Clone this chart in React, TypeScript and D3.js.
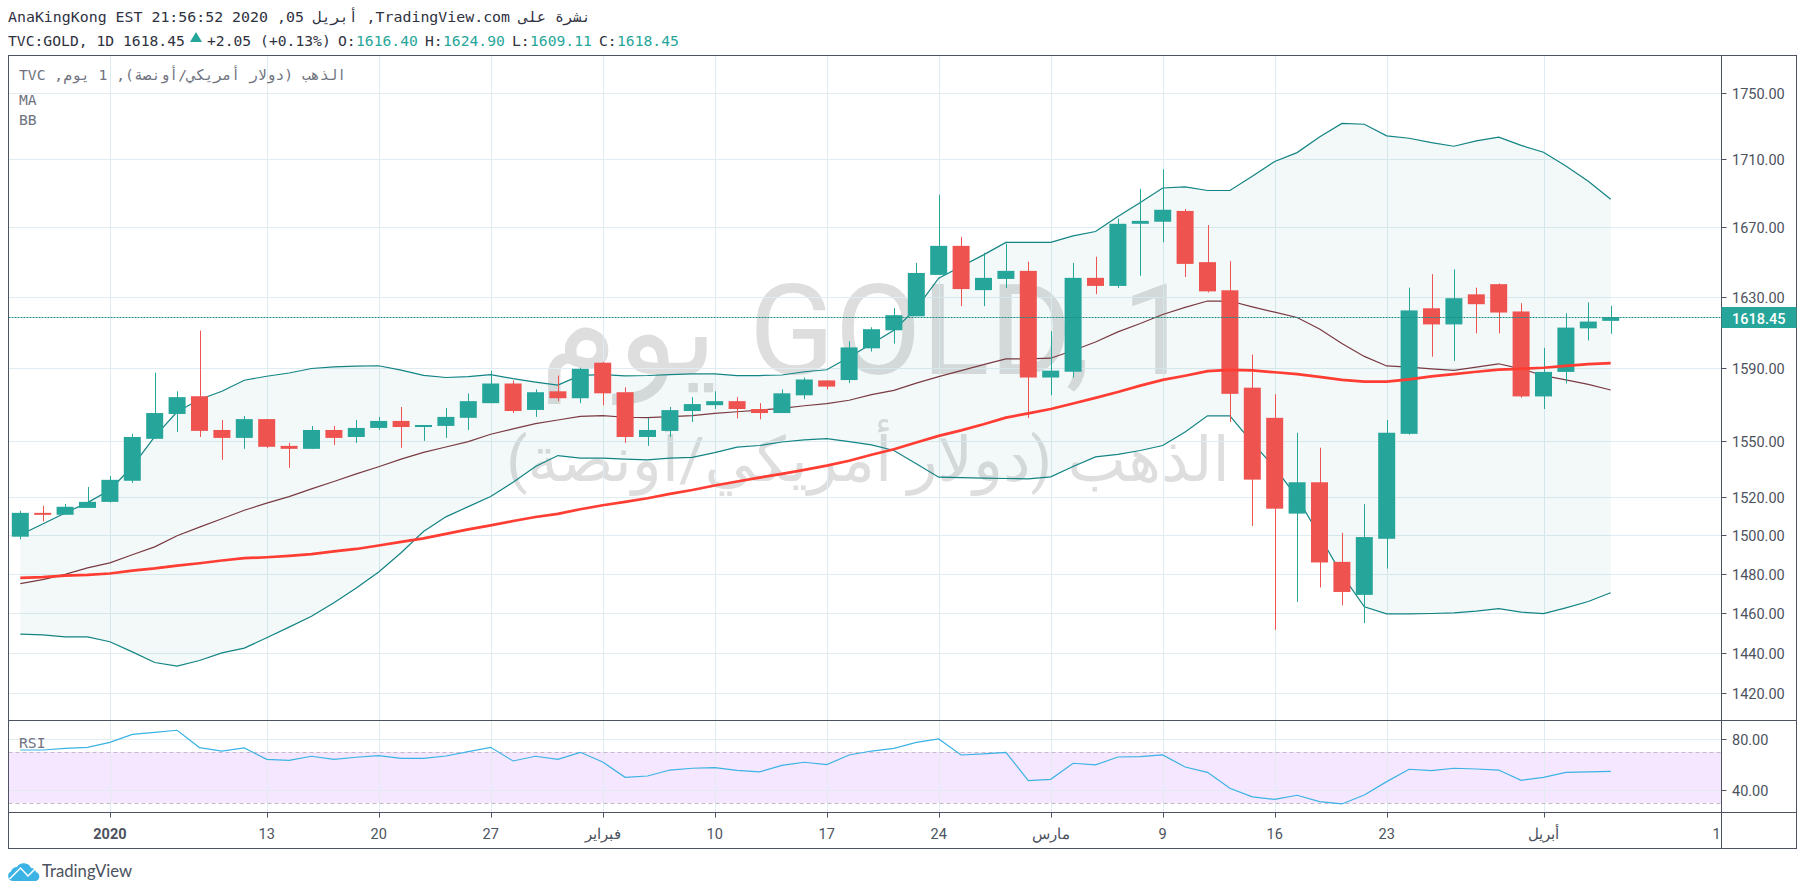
import React from 'react';
import * as d3 from 'd3';

const opens = [1499.3,1511.8,1510.8,1514.4,1517.6,1528.8,1551.3,1564.8,1574.5,1556.1,1551.8,1562.0,1547.5,1545.9,1556.1,1552.3,1557.2,1561.0,1557.7,1558.3,1562.7,1570.7,1581.5,1567.0,1577.2,1573.4,1593.0,1576.7,1552.3,1555.6,1566.4,1569.6,1571.8,1567.5,1565.3,1575.0,1583.2,1583.4,1601.0,1611.1,1619.0,1642.5,1659.2,1633.8,1640.2,1644.8,1584.8,1588.0,1640.8,1636.2,1672.0,1673.2,1679.5,1649.8,1633.7,1579.2,1562.7,1511.4,1528.0,1486.2,1469.2,1498.2,1554.0,1623.5,1614.4,1631.4,1637.2,1621.7,1574.4,1587.9,1612.2,1616.4];
const highs = [1512.9,1515.5,1516.5,1525.5,1531.4,1554.0,1587.5,1577.2,1610.9,1561.5,1563.6,1562.0,1549.1,1558.3,1558.3,1561.5,1563.2,1568.6,1558.8,1568.0,1576.0,1588.5,1583.2,1578.3,1585.9,1590.2,1593.5,1579.4,1562.6,1568.6,1574.0,1577.2,1574.0,1570.7,1578.3,1584.8,1583.2,1604.9,1612.8,1623.6,1649.4,1689.0,1664.4,1655.2,1660.5,1650.0,1610.6,1649.4,1652.9,1675.0,1692.5,1704.0,1680.7,1671.3,1650.4,1597.5,1575.6,1554.6,1546.5,1501.3,1516.4,1561.5,1635.2,1642.9,1645.7,1635.2,1637.6,1626.4,1601.3,1620.7,1626.8,1624.9];
const lows = [1497.9,1507.3,1510.8,1514.4,1517.2,1527.7,1551.3,1555.0,1552.3,1540.0,1545.9,1546.4,1535.7,1545.9,1548.0,1549.1,1556.1,1546.4,1550.2,1551.8,1556.1,1570.7,1565.3,1563.2,1571.8,1570.7,1569.6,1549.1,1547.5,1552.3,1560.4,1567.5,1562.4,1561.9,1565.3,1572.9,1578.3,1581.7,1599.2,1603.6,1619.0,1642.5,1624.7,1624.7,1635.0,1562.6,1575.0,1584.8,1631.5,1635.0,1642.0,1661.3,1641.3,1632.5,1560.4,1504.9,1451.4,1465.6,1473.0,1463.9,1454.8,1482.7,1553.5,1596.3,1594.0,1609.4,1609.4,1573.7,1567.5,1581.5,1605.4,1609.11];
const closes = [1511.8,1510.8,1515.0,1517.6,1529.3,1552.3,1565.3,1574.0,1555.6,1551.8,1562.0,1547.0,1545.9,1556.1,1551.8,1557.2,1561.0,1557.7,1558.8,1563.2,1571.8,1581.5,1566.4,1576.7,1573.4,1589.6,1576.1,1552.3,1556.1,1566.9,1570.2,1571.8,1567.5,1565.3,1576.1,1583.7,1579.8,1601.5,1611.7,1619.6,1643.6,1659.2,1634.4,1640.8,1644.8,1584.8,1588.6,1640.8,1636.2,1672.0,1673.7,1680.2,1648.8,1633.1,1575.8,1529.4,1514.0,1528.0,1485.9,1470.7,1499.1,1554.6,1622.3,1614.4,1629.2,1625.8,1621.1,1574.4,1587.9,1612.6,1616.0,1618.45];

const bbUpper = [1500.3,1505.9,1511.7,1517.2,1523.9,1536.4,1552.5,1566.0,1572.7,1577.2,1583.3,1585.5,1587.3,1589.8,1590.7,1591.1,1591.3,1588.9,1586.0,1584.8,1585.3,1586.4,1584.2,1582.3,1580.6,1586.0,1586.4,1585.7,1585.9,1586.4,1586.8,1586.8,1585.9,1585.9,1586.2,1588.0,1589.1,1596.0,1603.6,1611.1,1623.4,1640.6,1647.3,1654.0,1661.2,1661.2,1661.2,1665.0,1667.5,1676.3,1684.5,1693.0,1693.6,1691.5,1691.5,1700.0,1708.7,1714.0,1723.3,1731.5,1731.0,1724.0,1722.6,1720.0,1717.8,1721.0,1723.3,1718.3,1714.2,1706.0,1697.0,1686.4];
const bbLower = [1449.2,1448.9,1447.9,1447.9,1445.4,1440.3,1435.0,1433.2,1436.0,1439.8,1442.2,1447.4,1452.8,1458.3,1465.2,1472.7,1481.0,1490.9,1502.0,1509.7,1515.1,1520.4,1528.0,1536.4,1542.3,1540.9,1540.9,1540.4,1540.0,1540.9,1541.3,1543.9,1546.8,1547.7,1549.6,1550.7,1551.4,1549.8,1548.0,1545.0,1537.9,1530.7,1530.5,1530.2,1530.0,1529.8,1530.9,1536.4,1541.6,1542.9,1545.0,1547.7,1555.0,1563.8,1563.8,1549.2,1535.8,1520.0,1499.8,1479.6,1463.1,1459.5,1459.5,1459.7,1460.0,1460.9,1462.2,1460.4,1459.6,1462.6,1465.8,1470.3];
const bbBasis = [1475.0,1477.0,1479.7,1483.1,1485.7,1489.9,1494.0,1499.8,1504.3,1508.7,1513.2,1516.9,1520.4,1524.5,1528.4,1532.5,1536.3,1540.4,1544.0,1546.9,1549.8,1553.8,1556.7,1559.5,1561.5,1563.5,1563.9,1563.0,1562.8,1563.3,1563.9,1565.1,1566.0,1566.9,1567.8,1569.3,1570.4,1572.3,1575.4,1577.7,1581.7,1585.3,1588.6,1591.9,1595.1,1595.1,1595.5,1599.8,1604.5,1610.2,1614.9,1620.0,1624.0,1627.6,1627.6,1624.3,1621.3,1618.3,1611.8,1603.7,1596.5,1591.2,1590.6,1589.6,1588.8,1590.6,1592.4,1589.6,1585.8,1583.5,1581.0,1577.9];
const ma50 = [1477.9,1478.3,1479.1,1479.5,1480.2,1481.7,1482.8,1484.3,1485.5,1486.9,1488.1,1488.6,1489.3,1490.2,1491.6,1492.9,1494.7,1496.6,1498.4,1500.8,1503.1,1505.2,1507.5,1509.6,1511.3,1513.7,1515.8,1517.6,1519.5,1521.8,1523.9,1526.3,1528.4,1530.5,1532.5,1534.6,1536.9,1539.5,1542.7,1545.7,1549.3,1552.9,1555.9,1559.2,1562.8,1565.1,1567.5,1570.5,1573.6,1576.8,1580.3,1583.5,1585.8,1588.3,1589.0,1588.7,1587.7,1586.7,1585.2,1583.5,1582.5,1582.5,1583.8,1585.4,1586.7,1588.0,1589.2,1589.6,1590.2,1591.2,1592.2,1592.8];
const rsi = [71.6,71.6,72.9,73.7,77.6,83.9,85.5,87.1,73.5,70.8,73.2,64.3,63.5,66.7,64.3,65.9,67.2,65.1,65.1,66.9,70.3,73.7,63.0,66.7,64.3,69.8,62.2,50.2,51.2,55.9,57.3,57.8,55.7,54.4,59.6,62.0,60.1,67.7,70.8,72.9,77.6,80.3,67.7,68.5,69.8,47.6,48.6,61.2,59.9,66.1,66.4,67.7,58.3,54.1,41.6,34.8,32.9,36.1,31.1,29.3,36.3,46.8,56.5,55.4,57.3,56.7,55.9,47.8,50.2,54.1,54.4,54.9];

const priceTicks = [1420, 1440, 1460, 1480, 1500, 1520, 1550, 1590, 1630, 1670, 1710, 1750];
const rsiTicks = [40, 80];
const timeTickIndex = [4, 11, 16, 21, 26, 31, 36, 41, 46, 51, 56, 61, 68, 76];
const timeTickLabel = ['2020', '13', '20', '27', 'فبراير', '10', '17', '24', 'مارس', '9', '16', '23', 'أبريل', '1'];

const GREEN = '#26a69a';
const RED = '#ef5350';
const GRID = '#e1ecf2';
const FRAME = '#4c525e';
const MONO = '"DejaVu Sans Mono", monospace';
const SANS = 'Roboto, sans-serif';

const left = 8.5;
const right = 1796.5;
const axisX = 1721.5;
const top = 55.5;
const paneBottom = 720.5;
const rsiBottom = 812.5;
const bottom = 848.5;

const indices = d3.range(closes.length);
const x = d3.scaleLinear().domain([0, 71]).range([20.3, 1610.7]);
const y = d3.scaleLog().domain([1440, 1710]).range([652.5, 159.3]);
const yr = d3.scaleLinear().domain([40, 80]).range([790.3, 739.3]);

const priceLine = (values: number[]) =>
  d3.line<number>().x((i) => x(i)).y((i) => y(values[i]))(indices) ?? '';
const bandArea = d3.area<number>().x((i) => x(i)).y0((i) => y(bbLower[i])).y1((i) => y(bbUpper[i]));
const rsiLine = d3.line<number>().x((i) => x(i)).y((i) => yr(rsi[i]));

const crisp = (v: number) => Math.round(v) + 0.5;
const lastY = crisp(y(closes[closes.length - 1]));

const App = () => (
  <svg width={1805} height={895} style={{ position: 'absolute', left: 0, top: 0, background: '#fff' }}>
    <defs>
      <clipPath id="price-pane"><rect x={left} y={top} width={axisX - left} height={paneBottom - top} /></clipPath>
      <clipPath id="rsi-pane"><rect x={left} y={paneBottom} width={axisX - left} height={rsiBottom - paneBottom} /></clipPath>
      <clipPath id="time-axis"><rect x={left} y={rsiBottom} width={axisX - left} height={bottom - rsiBottom} /></clipPath>
    </defs>

    <text x={8} y={22} fontFamily={MONO} fontSize={14.9} fill="#2f3241">
      AnaKingKong EST 21:56:52 2020 ,05 أبريل ,TradingView.com نشرة على
    </text>
    <g fontFamily={MONO} fontSize={14.7} fill="#2f3241">
      <text x={8} y={46}>TVC:GOLD, 1D 1618.45</text>
      <path d="M190 42 L196 32 L202 42 Z" fill={GREEN} />
      <text x={207} y={46}>+2.05 (+0.13%)</text>
      <text x={338} y={46}>O:<tspan x={356} fill={GREEN}>1616.40</tspan></text>
      <text x={425} y={46}>H:<tspan x={443} fill={GREEN}>1624.90</tspan></text>
      <text x={512} y={46}>L:<tspan x={530} fill={GREEN}>1609.11</tspan></text>
      <text x={599} y={46}>C:<tspan x={617} fill={GREEN}>1618.45</tspan></text>
    </g>

    <g clipPath="url(#price-pane)">
      <g fill="#dedede" textAnchor="middle" style={{ direction: 'rtl' }} fontFamily='Roboto, "DejaVu Sans", sans-serif'>
        <text x={866} y={374} fontSize={126}>GOLD, 1 يوم</text>
        <text x={868} y={481} fontSize={62}>الذهب (دولار أمريكي/أونصة)</text>
      </g>
      {priceTicks.map((t) => (
        <line key={t} x1={left} x2={axisX} y1={crisp(y(t))} y2={crisp(y(t))} stroke={GRID} />
      ))}
      {timeTickIndex.map((i) => (
        <line key={i} x1={crisp(x(i))} x2={crisp(x(i))} y1={top} y2={paneBottom} stroke={GRID} />
      ))}
      <path d={bandArea(indices) ?? ''} fill="#138484" fillOpacity={0.05} />
      <path d={priceLine(bbUpper)} fill="none" stroke="#138484" strokeWidth={1.2} />
      <path d={priceLine(bbLower)} fill="none" stroke="#138484" strokeWidth={1.2} />
      <path d={priceLine(bbBasis)} fill="none" stroke="#7a3a42" strokeWidth={1.2} />
      {indices.map((i) => {
        const color = closes[i] >= opens[i] ? GREEN : RED;
        const yTop = y(Math.max(opens[i], closes[i]));
        const yBottom = y(Math.min(opens[i], closes[i]));
        return (
          <g key={i} fill={color} stroke={color}>
            <line x1={crisp(x(i))} x2={crisp(x(i))} y1={y(highs[i])} y2={y(lows[i])} strokeWidth={1} />
            <rect x={x(i) - 8.5} y={yTop} width={17} height={Math.max(yBottom - yTop, 2)} stroke="none" />
          </g>
        );
      })}
      <path d={priceLine(ma50)} fill="none" stroke="#ff3d33" strokeWidth={2.7} />
      <line x1={left} x2={axisX} y1={lastY} y2={lastY} stroke="#1a8f86" strokeDasharray="2 1" />
      <g fontFamily={MONO} fontSize={14.7} fill="#6f7380">
        <text x={19} y={80} textAnchor="end" style={{ direction: 'rtl' }}>الذهب (دولار أمريكي/أونصة), 1 يوم, TVC</text>
        <text x={19} y={105}>MA</text>
        <text x={19} y={125}>BB</text>
      </g>
    </g>

    <g clipPath="url(#rsi-pane)">
      <rect x={left} y={yr(70)} width={axisX - left} height={yr(30) - yr(70)} fill="#9915ff" fillOpacity={0.1} />
      {rsiTicks.map((t) => (
        <line key={t} x1={left} x2={axisX} y1={crisp(yr(t))} y2={crisp(yr(t))} stroke={GRID} />
      ))}
      {timeTickIndex.map((i) => (
        <line key={i} x1={crisp(x(i))} x2={crisp(x(i))} y1={paneBottom} y2={rsiBottom} stroke={GRID} />
      ))}
      {[30, 70].map((t) => (
        <line key={t} x1={left} x2={axisX} y1={crisp(yr(t))} y2={crisp(yr(t))} stroke="#c3bcc8" strokeDasharray="4 3" />
      ))}
      <path d={rsiLine(indices) ?? ''} fill="none" stroke="#3bb3e4" strokeWidth={1.2} />
      <text x={19} y={748} fontFamily={MONO} fontSize={14.7} fill="#6f7380">RSI</text>
    </g>

    <rect x={left} y={top} width={right - left} height={bottom - top} fill="none" stroke={FRAME} />
    <line x1={left} x2={right} y1={paneBottom} y2={paneBottom} stroke={FRAME} />
    <line x1={left} x2={right} y1={rsiBottom} y2={rsiBottom} stroke={FRAME} />
    <line x1={axisX} x2={axisX} y1={top} y2={bottom} stroke={FRAME} />

    <g fontFamily={SANS} fontSize={14.5} fill="#4c525e">
      {priceTicks.map((t) => (
        <g key={t}>
          <line x1={axisX} x2={axisX + 5} y1={crisp(y(t))} y2={crisp(y(t))} stroke={FRAME} />
          <text x={1732} y={y(t) + 6}>{d3.format('.2f')(t)}</text>
        </g>
      ))}
      {rsiTicks.map((t) => (
        <g key={t}>
          <line x1={axisX} x2={axisX + 5} y1={crisp(yr(t))} y2={crisp(yr(t))} stroke={FRAME} />
          <text x={1732} y={yr(t) + 6}>{d3.format('.2f')(t)}</text>
        </g>
      ))}
      <rect x={axisX} y={lastY - 10.5} width={right - axisX} height={21} fill={GREEN} />
      <text x={1732} y={lastY + 6} fill="#fff" fontWeight={500}>{d3.format('.2f')(closes[closes.length - 1])}</text>
      <g clipPath="url(#time-axis)" textAnchor="middle">
        {timeTickIndex.map((i, k) => {
          const clipped = k === timeTickIndex.length - 1;
          return (
            <g key={i}>
              <line x1={crisp(x(i))} x2={crisp(x(i))} y1={rsiBottom} y2={rsiBottom + 5} stroke={FRAME} />
              <text
                x={clipped ? x(i) - 2 : x(i)}
                y={839}
                textAnchor={clipped ? 'end' : 'middle'}
                fontWeight={k === 0 ? 700 : 400}
              >
                {timeTickLabel[k]}
              </text>
            </g>
          );
        })}
      </g>
    </g>

    <path
      d="M13 881 A5 5 0 0 1 11 871.5 A6.5 6.5 0 0 1 17 867 A8 8 0 0 1 31 868 A5.5 5.5 0 0 1 36 872 A4.7 4.7 0 0 1 36 881 Z"
      fill="#3bb3e4"
    />
    <path d="M9.5 879 L20.5 868 L28 876 L36 868" fill="none" stroke="#fff" strokeWidth={1.5} />
    <text x={42} y={877} fontFamily='Lato, sans-serif' fontSize={16.7} fill="#4c525e">TradingView</text>
  </svg>
);

export default App;
